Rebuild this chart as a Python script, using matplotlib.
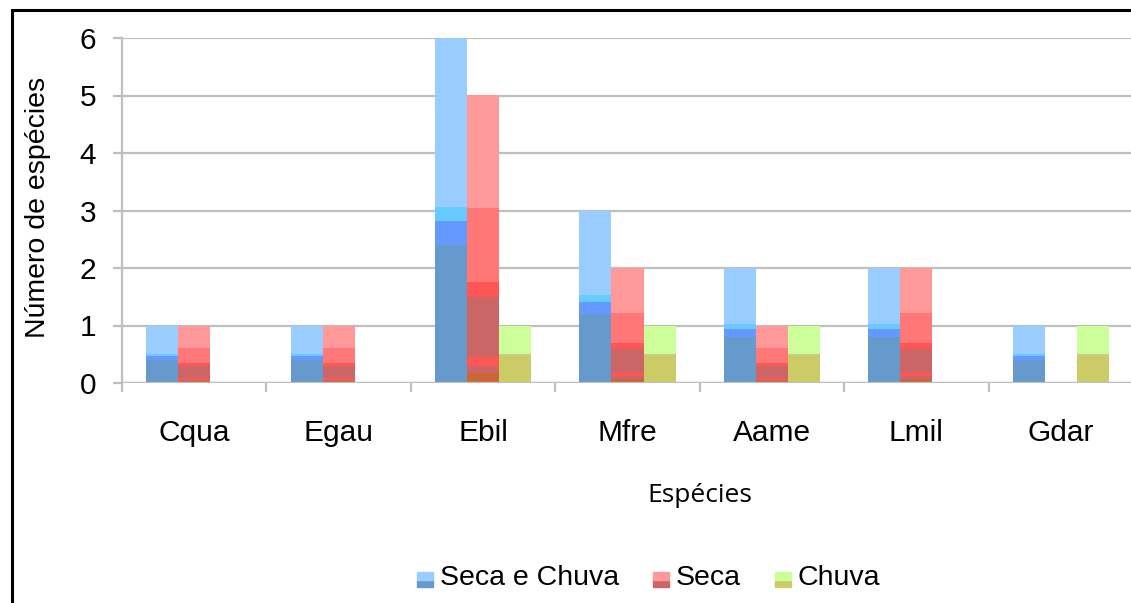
import numpy as np
import matplotlib
matplotlib.use("Agg")
import matplotlib.pyplot as plt
from matplotlib.patches import Rectangle
from matplotlib.legend_handler import HandlerBase

especies = ["Cqua", "Egau", "Ebil", "Mfre", "Aame", "Lmil", "Gdar"]
seca_e_chuva = [1, 1, 6, 3, 2, 2, 1]
seca = [1, 1, 5, 2, 1, 2, 0]
chuva = [0, 0, 1, 1, 1, 0, 1]
series_names = ["Seca e Chuva", "Seca", "Chuva"]

# fake Excel gradient: bands as fractions of each bar height (from the bottom)
blue_bands = [(0.0, 0.40, "#6699CC"), (0.40, 0.47, "#6699FF"),
              (0.47, 0.51, "#66CCFF"), (0.51, 1.0, "#99CCFF")]
red_bands = [(0.0, 0.035, "#CC6633"), (0.035, 0.06, "#CC6666"),
             (0.06, 0.09, "#FF5555"), (0.09, 0.30, "#CC6666"),
             (0.30, 0.35, "#FF5555"), (0.35, 0.61, "#FF7777"),
             (0.61, 1.0, "#FF9999")]
green_bands = [(0.0, 0.47, "#CCCC66"), (0.47, 0.51, "#CCCC88"),
               (0.51, 1.0, "#CCFF99")]

W, H = 1131, 603
fig = plt.figure(figsize=(W / 100, H / 100), dpi=100)
ax = fig.add_axes([122 / W, (H - 383) / H, 1011 / W, 345 / H])

grid_col = "#BFBFBF"
bw = 32 / 144.4
x = np.arange(len(especies))

for vals, bands, off in [(seca_e_chuva, blue_bands, -bw),
                         (seca, red_bands, 0),
                         (chuva, green_bands, bw)]:
    vals = np.array(vals, dtype=float)
    for lo, hi, col in bands:
        ax.bar(x + off, vals * (hi - lo), bottom=vals * lo, width=bw,
               color=col, edgecolor="none", zorder=3)

ax.set_xlim(-0.5, len(especies) - 0.5)
ax.set_ylim(0, 6)
ax.set_yticks(range(7))
ax.yaxis.grid(True, color=grid_col, lw=1.6, zorder=0)
ax.axhline(0, color=grid_col, lw=1.6, zorder=4)

ax.set_xticks(np.arange(len(especies) + 1) - 0.5)
ax.set_xticklabels([])
ax.set_xticks(x, minor=True)
ax.set_xticklabels(especies, minor=True, fontsize=21.5, family="Liberation Sans")
ax.tick_params(axis="x", which="major", direction="out", length=6.5,
               width=1.6, color=grid_col)
ax.tick_params(axis="x", which="minor", length=0, pad=26)
ax.tick_params(axis="y", direction="out", length=6.5, width=1.6,
               color=grid_col, labelsize=21.5, pad=12)
for lab in ax.get_yticklabels():
    lab.set_family("Liberation Sans")

for s in ["top", "right", "bottom"]:
    ax.spines[s].set_visible(False)
ax.spines["left"].set_color(grid_col)
ax.spines["left"].set_linewidth(1.6)

fig.text(38 / W, 1 - 207 / H, "Número de espécies", fontsize=20.5,
         family="Liberation Sans", rotation=90, ha="center", va="center")
fig.text(700 / W, 1 - 495 / H, "Espécies", fontsize=19, family="Open Sans",
         ha="center", va="center")

# outer frame (only top and left visible in the reference)
fig.patches.append(Rectangle((12 / W, -0.1), 1.2, (H - 10) / H + 0.1,
                             transform=fig.transFigure, fill=False,
                             edgecolor="black", lw=2.2))


class TwoTone(HandlerBase):
    def __init__(self, top, bottom):
        super().__init__()
        self.top, self.bottom = top, bottom

    def create_artists(self, legend, orig, xd, yd, width, height, fontsize, trans):
        s = height
        x0 = xd + width - s
        r1 = Rectangle((x0, yd), s, s / 2, color=self.bottom, transform=trans)
        r2 = Rectangle((x0, yd + s / 2), s, s / 2, color=self.top, transform=trans)
        return [r1, r2]


handles = [Rectangle((0, 0), 1, 1) for _ in series_names]
handler_map = {handles[0]: TwoTone("#99CCFF", "#6699CC"),
               handles[1]: TwoTone("#FF9999", "#CC6666"),
               handles[2]: TwoTone("#CCFF99", "#CCCC66")}
fig.legend(handles, series_names, handler_map=handler_map, loc="center",
           bbox_to_anchor=(650 / W, 1 - 578 / H), ncol=3, frameon=False,
           prop={"family": "Liberation Sans", "size": 20.5},
           handlelength=0.45, handleheight=0.45, handletextpad=0.25,
           columnspacing=1.3)

fig.savefig("out.png", dpi=100)
